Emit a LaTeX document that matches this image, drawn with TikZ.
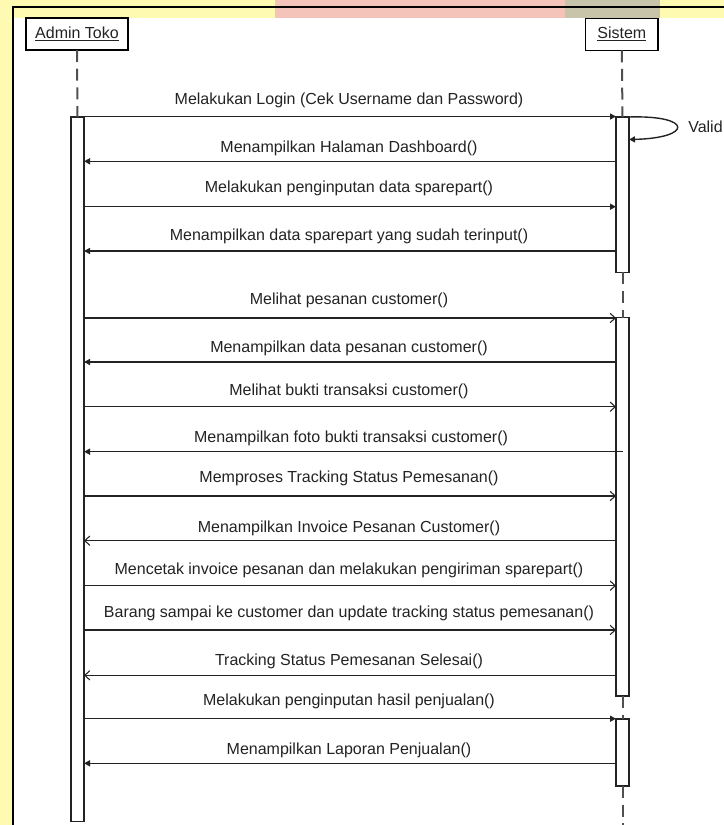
\documentclass[tikz,border=0pt]{standalone}
\usepackage{fontspec}
\setmainfont{Liberation Sans}
\usetikzlibrary{arrows.meta}
\definecolor{bgyel}{RGB}{255,250,178}
\definecolor{wpink}{RGB}{244,196,186}
\definecolor{wgray}{RGB}{200,196,170}
\definecolor{ln}{RGB}{35,35,35}
\definecolor{lifeg}{RGB}{80,80,80}
\begin{document}
\begin{tikzpicture}[x=0.75pt,y=-0.75pt,
  txt/.style={font=\fontsize{12pt}{14pt}\selectfont, text=ln, inner sep=0pt},
  actorbox/.style={draw=black, line width=1pt, fill=white, inner sep=0pt, outer sep=0pt,
    minimum height=24pt, font=\fontsize{12pt}{14pt}\selectfont, text=ln},
  bar/.style={draw=ln, line width=1pt, fill=white, inner sep=0pt, outer sep=0pt, minimum width=9.75pt},
  life/.style={draw=lifeg, line width=1.5pt, dash pattern=on 9pt off 5pt},
  msgF/.style={draw=ln, line width=1.05pt, -{Triangle[length=4.5pt,width=4.5pt]}},
  msgO/.style={draw=ln, line width=1.05pt, -{Straight Barb[length=3.8pt,width=7pt,line width=0.8pt]}}]
\useasboundingbox (0,0) rectangle (724,825);
\clip (0,0) rectangle (724,825);
% background and frame
\fill[bgyel] (0,0) rectangle (724,825);
\fill[wpink] (275,0) rectangle (565,18);
\fill[wgray] (565,0) rectangle (660,18);
\fill[white] (13,18) rectangle (724,825);
\draw[black, line width=1.1pt] (13,825) -- (13,7) -- (724,7);
% actors
\node[actorbox, minimum width=76.5pt] (bA) at (77,34) {\underline{Admin Toko}};
\node[actorbox, minimum width=54.4pt] (bS) at (621.8,34.3) {\underline{Sistem}};
% activation bars
\node[bar, minimum height=528.4pt] (aA) at (77.5,469.25) {};
\node[bar, minimum height=116.6pt] (s1) at (622.5,194.75) {};
\node[bar, minimum height=283.7pt] (s2) at (622.5,506.85) {};
\node[bar, minimum height=50.25pt] (s3) at (622.5,752.5) {};
\coordinate (sEnd) at (622.5,826);
% lifelines
\draw[life] (bA.south) -- (aA.north);
\draw[life] (bS.south) -- (s1.north);
\draw[life] (s1.south) -- (s2.north);
\draw[life] (s2.south) -- (s3.north);
\draw[life] (s3.south) -- (sEnd);
% messages
\draw[msgF] (aA.east |- 0,116.5) -- (s1.west |- 0,116.5);
\node[txt] (t1) at (349,100) {Melakukan Login (Cek Username dan Password)};
\draw[msgF] (s1.west |- 0,161.3) -- (aA.east |- 0,161.3);
\node[txt] (t2) at (349,148.7) {Menampilkan Halaman Dashboard()};
\draw[msgF] (aA.east |- 0,206.7) -- (s1.west |- 0,206.7);
\node[txt] (t3) at (349,188) {Melakukan penginputan data sparepart()};
\draw[msgF] (s1.west |- 0,251) -- (aA.east |- 0,251);
\node[txt] (t4) at (349,236.7) {Menampilkan data sparepart yang sudah terinput()};
\draw[msgO] (aA.east |- 0,318) -- (s2.west |- 0,318);
\node[txt] (t5) at (349,300.5) {Melihat pesanan customer()};
\draw[msgF] (s2.west |- 0,362) -- (aA.east |- 0,362);
\node[txt] (t6) at (349,348) {Menampilkan data pesanan customer()};
\draw[msgO] (aA.east |- 0,406.7) -- (s2.west |- 0,406.7);
\node[txt] (t7) at (349,391.7) {Melihat bukti transaksi customer()};
\draw[msgF] (s2.center |- 0,451.7) -- (aA.east |- 0,451.7);
\node[txt] (t8) at (351,438.3) {Menampilkan foto bukti transaksi customer()};
\draw[msgO] (aA.east |- 0,496) -- (s2.west |- 0,496);
\node[txt] (t9) at (349,478) {Memproses Tracking Status Pemesanan()};
\draw[msgO] (s2.west |- 0,540.7) -- (aA.east |- 0,540.7);
\node[txt] (t10) at (349,528.3) {Menampilkan Invoice Pesanan Customer()};
\draw[msgO] (aA.east |- 0,585.7) -- (s2.west |- 0,585.7);
\node[txt] (t11) at (349,570) {Mencetak invoice pesanan dan melakukan pengiriman sparepart()};
\draw[msgO] (aA.east |- 0,630) -- (s2.west |- 0,630);
\node[txt] (t12) at (349,613.3) {Barang sampai ke customer dan update tracking status pemesanan()};
\draw[msgO] (s2.west |- 0,675.3) -- (aA.east |- 0,675.3);
\node[txt] (t13) at (349,661.7) {Tracking Status Pemesanan Selesai()};
\draw[msgF] (aA.east |- 0,718.7) -- (s3.west |- 0,718.7);
\node[txt] (t14) at (349,701) {Melakukan penginputan hasil penjualan()};
\draw[msgF] (s3.west |- 0,763.3) -- (aA.east |- 0,763.3);
\node[txt] (t15) at (349,750.7) {Menampilkan Laporan Penjualan()};
% self message
\draw[msgF] (s1.east |- 0,117) .. controls (693,115) and (693,138) .. (s1.east |- 0,139.5);
\node[txt, anchor=west] (tv) at (688,127) {Valid};
\end{tikzpicture}
\end{document}
